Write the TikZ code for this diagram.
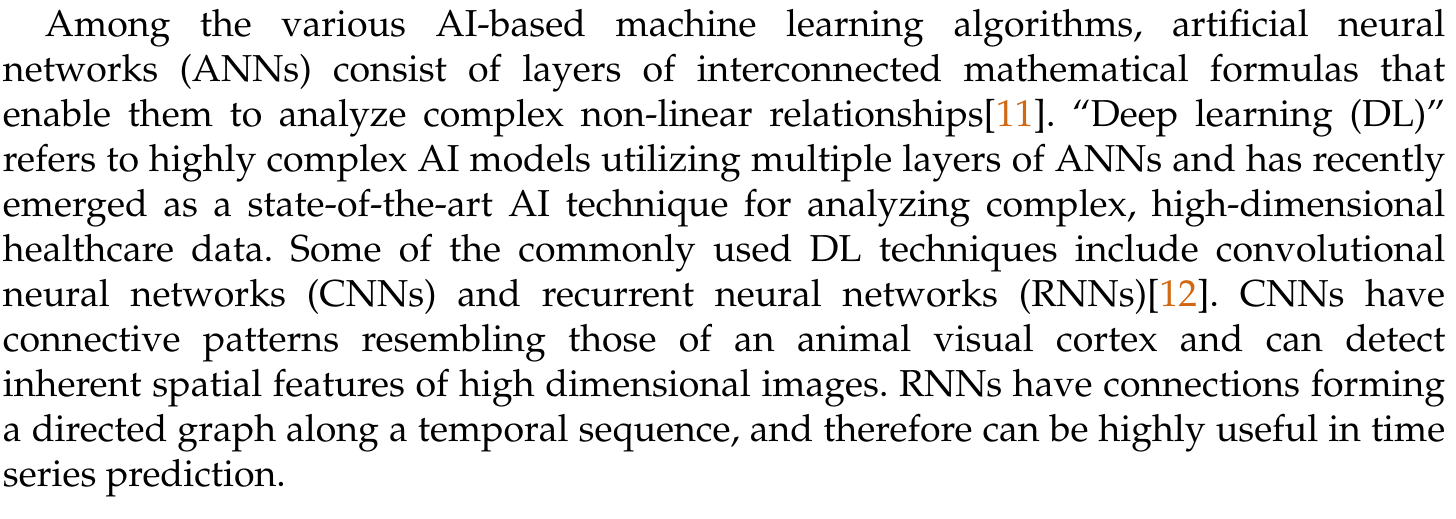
\documentclass[tikz,border=0pt]{standalone}
\usepackage[T1]{fontenc}
\usepackage{mathpazo}
\definecolor{citecol}{RGB}{208,104,20}
\newcommand{\citeref}[1]{[\textcolor{citecol}{#1}]}
\tikzset{para/.style={anchor=base west, inner sep=0pt, outer sep=0pt, text width=384.6pt, align=justify, font=\fontsize{10}{12}\selectfont}}
\begin{document}
\begin{tikzpicture}
\useasboundingbox[fill=white] (0,0) rectangle (388.27pt,-138.4pt);
\node[para] (txt) at (0.8pt,-9.75pt) {\frenchspacing\pretolerance=-1\tolerance=10000\hyphenpenalty=10000\exhyphenpenalty=10000\emergencystretch=20pt%
\hspace*{11.2pt}Among the various AI-based machine learning algorithms, artificial neural\linebreak
networks (ANNs) consist of layers of interconnected mathematical formulas that\linebreak
enable them to analyze complex non-linear relationships\citeref{11}. ``Deep learning (DL)''\linebreak
refers to highly complex AI models utilizing multiple layers of ANNs and has recently\linebreak
emerged as a state-of-the-art AI technique for analyzing complex, high-dimensional\linebreak
healthcare data. Some of the commonly used DL techniques include convolutional\linebreak
neural networks (CNNs) and recurrent neural networks (RNNs)\citeref{12}. CNNs have\linebreak
connective patterns resembling those of an animal visual cortex and can detect\linebreak
inherent spatial features of high dimensional images. RNNs have connections forming\linebreak
a directed graph along a temporal sequence, and therefore can be highly useful in time\linebreak
series prediction.};
\end{tikzpicture}
\end{document}
